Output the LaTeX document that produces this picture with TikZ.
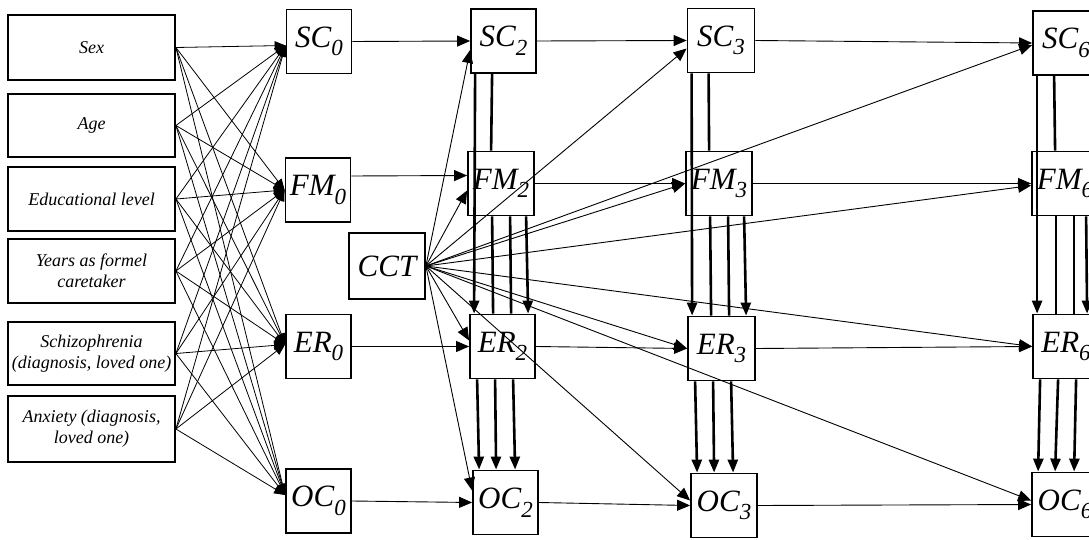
\documentclass[tikz,border=0pt]{standalone}
\usepackage{fontspec}
\setmainfont{Liberation Serif}
\usetikzlibrary{arrows.meta,calc}
\newcommand{\varlab}[2]{#1\raisebox{-0.28em}{\fontsize{23}{23}\selectfont #2}}
\begin{document}
\begin{tikzpicture}[x=1pt,y=-1pt,
  box/.style={draw, line width=1.8pt, inner sep=0pt, minimum width=65pt, minimum height=64pt, font=\fontsize{31}{31}\selectfont\itshape},
  lbox/.style={draw, line width=1.8pt, inner sep=0pt, minimum width=167pt, minimum height=64pt, align=center, font=\fontsize{18}{21}\selectfont\itshape},
  larrow/.style={line width=0.8pt, -{Triangle[length=11pt,width=9pt]}},
  harrow/.style={line width=0.9pt, -{Triangle[length=13pt,width=11pt]}},
  tline/.style={line width=2.6pt},
  tarrow/.style={line width=2.6pt, -{Triangle[length=13pt,width=10pt]}}
]
\useasboundingbox (0,0) rectangle (1089,540);
\clip (0,0) rectangle (1089,540);
\fill[white] (0,0) rectangle (1089,540);

% left boxes
\node[lbox, minimum height=65pt] (sex) at (91.5,47.5) {Sex};
\node[lbox, minimum height=63pt] (age) at (91.5,125.5) {Age};
\node[lbox] (edu) at (91.5,199) {Educational level};
\node[lbox] (yrs) at (91.5,271) {Years as formel\\caretaker};
\node[lbox, minimum height=63pt] (sch) at (91.5,353.5) {Schizophrenia\\(diagnosis, loved one)};
\node[lbox, minimum height=66pt] (anx) at (91.5,429) {Anxiety (diagnosis,\\loved one)};

% time 0
\node[box] (SC0) at (319,41.5) {\varlab{SC}{0}};
\node[box] (FM0) at (318,190) {\varlab{FM}{0}};
\node[box] (ER0) at (318.5,346.5) {\varlab{ER}{0}};
\node[box] (OC0) at (318.5,501) {\varlab{OC}{0}};
% CCT
\node[box, minimum width=76pt, minimum height=66pt] (CCT) at (387,266) {CCT};
% time 2
\node[box] (SC2) at (503.5,41) {\varlab{SC}{2}};
\node[box, minimum width=66pt] (FM2) at (501,183.5) {\varlab{FM}{2}};
\node[box] (ER2) at (502.5,346.5) {\varlab{ER}{2}};
\node[box] (OC2) at (505.5,502.5) {\varlab{OC}{2}};
% time 3
\node[box, minimum width=67pt] (SC3) at (721,40.5) {\varlab{SC}{3}};
\node[box, minimum width=66pt] (FM3) at (719,183.5) {\varlab{FM}{3}};
\node[box, minimum width=67pt] (ER3) at (721.5,348.5) {\varlab{ER}{3}};
\node[box, minimum width=66pt] (OC3) at (724,505.5) {\varlab{OC}{3}};
% time 6
\node[box, minimum width=66pt] (SC6) at (1066,43) {\varlab{SC}{6}};
\node[box, minimum width=66pt] (FM6) at (1065,183.5) {\varlab{FM}{6}};
\node[box, minimum width=66pt] (ER6) at (1066,346.5) {\varlab{ER}{6}};
\node[box, minimum width=66pt] (OC6) at (1065,504.5) {\varlab{OC}{6}};

% covariates to baseline
\foreach \s in {sex,age,edu,yrs,sch,anx}
  \foreach \t/\dy in {SC0/4,FM0/0,ER0/-2,OC0/-6}
    \draw[larrow] (\s.east) -- ($(\t.west)+(0,\dy)$);

% horizontal (autoregressive) arrows
\draw[harrow] (SC0.east) -- (SC2.west);
\draw[harrow] (SC2.east) -- (SC3.west);
\draw[harrow] (SC3.east) -- (SC6.west);
\draw[harrow] ($(FM0.east)+(0,-14)$) -- ($(FM2.west)+(0,-8)$);
\draw[harrow] (FM2.east) -- (FM3.west);
\draw[harrow] (FM3.east) -- (FM6.west);
\draw[harrow] (ER0.east) -- (ER2.west);
\draw[harrow] (ER2.east) -- (ER3.west);
\draw[harrow] (ER3.east) -- (ER6.west);
\draw[harrow] (OC0.east) -- (OC2.west);
\draw[harrow] (OC2.east) -- (OC3.west);
\draw[harrow] (OC3.east) -- (OC6.west);

% CCT arrows
\draw[harrow] (CCT.east) -- ($(SC2.west)+(0,9)$);
\draw[harrow] (CCT.east) -- ($(FM2.west)+(0,7)$);
\draw[harrow] (CCT.east) -- ($(ER2.west)+(0,-6)$);
\draw[harrow] (CCT.east) -- ($(OC2.west)+(0,-12)$);
\draw[harrow] (CCT.east) -- ($(SC3.west)+(0,8)$);
\draw[harrow] (CCT.east) -- (FM3.west);
\draw[harrow] (CCT.east) -- (ER3.west);
\draw[harrow] (CCT.east) -- ($(OC3.west)+(0,-5)$);
\draw[harrow] (CCT.east) -- ($(SC6.west)+(0,2)$);
\draw[harrow] (CCT.east) -- ($(FM6.west)+(0,2)$);
\draw[harrow] (CCT.east) -- (ER6.west);
\draw[harrow] (CCT.east) -- ($(OC6.west)+(0,-4)$);

% within-wave thick paths
\foreach \c/\d in {2/59,3/59,6/55} {
  \draw[tarrow] ($(SC\c.south west)+(5,0)$) -- ($(ER\c.north west)+(5,0)$);
  \draw[tline] ($(SC\c.south west)+(22,0)$) -- ($(FM\c.north west)+(24,0)$);
  \draw[tline] ($(FM\c.south west)+(25,0)$) -- ($(ER\c.north west)+(24,0)$);
  \draw[tline] ($(FM\c.south west)+(43,0)$) -- ($(ER\c.north west)+(42,0)$);
  \draw[tarrow] ($(FM\c.south west)+(\d,0)$) -- ($(ER\c.north west)+(\d,0)$);
  \draw[tarrow] ($(ER\c.south west)+(8,0)$) -- ($(OC\c.north west)+(7,0)$);
  \draw[tarrow] ($(ER\c.south west)+(26,0)$) -- ($(OC\c.north west)+(24,0)$);
  \draw[tarrow] ($(ER\c.south west)+(44,0)$) -- ($(OC\c.north west)+(43,0)$);
}
\end{tikzpicture}
\end{document}
